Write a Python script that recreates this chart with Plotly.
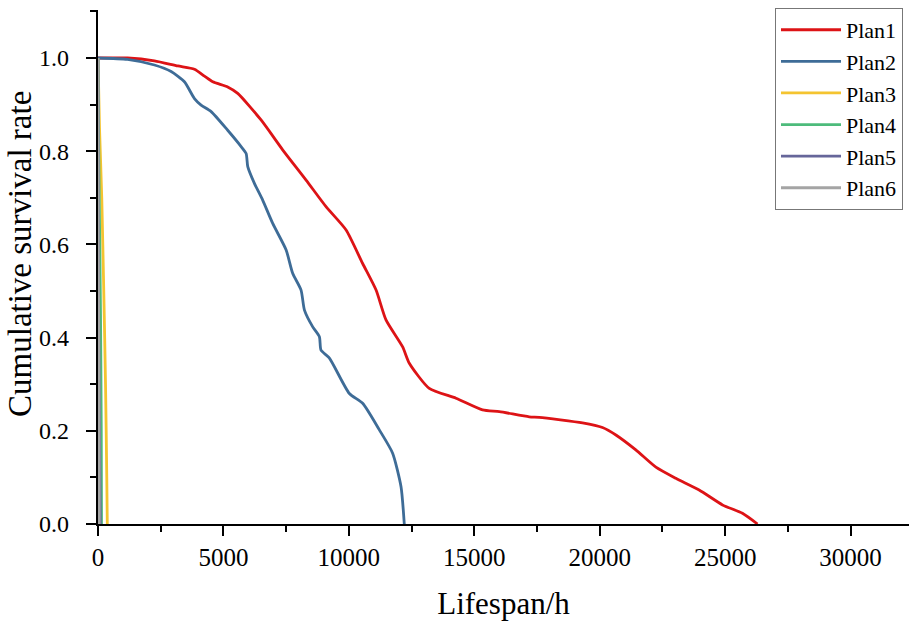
import plotly.graph_objects as go

# ---- data ----
plan1_x = [0, 1175, 2250, 3180, 3845, 4245, 4575, 5170, 5570, 6500, 7360, 8295, 9090,
           9890, 10550, 11085, 11480, 12145, 12410, 13205, 14270, 15330, 16000, 17190,
           17590, 19315, 20110, 20645, 21440, 22240, 23035, 23965, 24895, 25690, 26290]
plan1_y = [1.0, 1.0, 0.994, 0.983, 0.976, 0.961, 0.949, 0.938, 0.924, 0.867, 0.803, 0.738,
           0.681, 0.631, 0.559, 0.502, 0.438, 0.38, 0.345, 0.291, 0.27, 0.245, 0.241, 0.23,
           0.229, 0.217, 0.207, 0.191, 0.159, 0.122, 0.098, 0.073, 0.041, 0.023, 0.0]

plan2_x = [0, 1175, 2250, 2915, 3445, 3845, 4110, 4510, 5170, 5705, 5905, 5970, 6235, 6565,
           6965, 7500, 7760, 8095, 8230, 8560, 8825, 8890, 9225, 10020, 10550, 11215, 11745,
           12080, 12210]
plan2_y = [1.0, 0.997, 0.985, 0.971, 0.949, 0.913, 0.899, 0.885, 0.845, 0.81, 0.795, 0.767,
           0.731, 0.695, 0.645, 0.588, 0.538, 0.502, 0.459, 0.423, 0.402, 0.373, 0.356, 0.28,
           0.259, 0.202, 0.152, 0.08, 0.0]

plan3_x = [0, 60, 150, 230, 300, 350, 370]
plan3_y = [1.0, 0.85, 0.7, 0.5, 0.3, 0.1, 0.0]

plan4_x = [0, 30, 100, 130, 140]
plan4_y = [1.0, 0.8, 0.45, 0.2, 0.0]

plan5_x = [0, 20, 60, 90]
plan5_y = [1.0, 0.5, 0.2, 0.0]

plan6_x = [0, 10, 40, 50]
plan6_y = [1.0, 0.6, 0.3, 0.0]

names = ["Plan1", "Plan2", "Plan3", "Plan4", "Plan5", "Plan6"]
colors = ["#DD1316", "#3E6C97", "#F4C430", "#4DBB7B", "#66669A", "#A4A4A4"]
xs = [plan1_x, plan2_x, plan3_x, plan4_x, plan5_x, plan6_x]
ys = [plan1_y, plan2_y, plan3_y, plan4_y, plan5_y, plan6_y]

FONT = "Liberation Serif"

fig = go.Figure()
for i, (n, c, x, y) in enumerate(zip(names, colors, xs, ys)):
    fig.add_trace(go.Scatter(x=x, y=y, mode="lines", name=n,
                             line=dict(color=c, width=2.8, shape="spline", smoothing=0.6),
                             legendrank=i + 1))

axis_common = dict(
    showline=True, linecolor="black", linewidth=2.2,
    ticks="outside", ticklen=10, tickwidth=2, tickcolor="black",
    showgrid=False, zeroline=False, mirror=False,
)

fig.update_xaxes(
    **axis_common,
    tickfont=dict(family=FONT, size=25, color="black"),
    range=[0, 32330], tick0=0, dtick=5000, tickformat="d",
    minor=dict(ticks="outside", ticklen=6, tickwidth=2, tickcolor="black", dtick=2500, tick0=0),
    title=dict(text="Lifespan/h", font=dict(family=FONT, size=31, color="black"), standoff=22),
)
fig.update_yaxes(
    **axis_common,
    tickfont=dict(family=FONT, size=24, color="black"),
    range=[0, 1.103], tick0=0, dtick=0.2, tickformat=".1f",
    ticklabelstandoff=12,
    minor=dict(ticks="outside", ticklen=6, tickwidth=2, tickcolor="black", dtick=0.1, tick0=0),
)

# y-axis title placed as an annotation (slightly above the plot centre, as in the reference)
fig.add_annotation(
    text="Cumulative survival rate", textangle=-90,
    xref="paper", yref="paper", x=-0.097, y=0.526,
    xanchor="center", yanchor="middle", showarrow=False,
    font=dict(family=FONT, size=33, color="black"),
)

fig.update_layout(
    width=910, height=624,
    margin=dict(l=98, r=1, t=10, b=100),
    paper_bgcolor="white", plot_bgcolor="white",
    font=dict(family=FONT, color="black"),
    showlegend=True,
    legend=dict(
        x=0.9926, y=1.004, xanchor="right", yanchor="top",
        font=dict(family=FONT, size=22, color="black"),
        bordercolor="#777777", borderwidth=1, bgcolor="white",
        itemwidth=60, tracegroupgap=0,
    ),
)

fig.write_html("out.html")
